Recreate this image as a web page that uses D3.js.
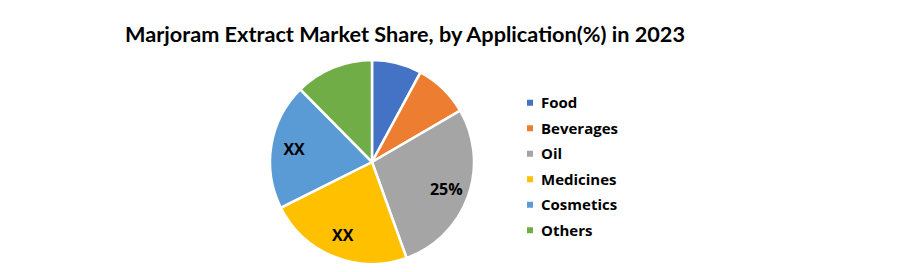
<!DOCTYPE html>
<html><head><meta charset="utf-8">
<script src="https://cdn.jsdelivr.net/npm/d3@7"></script>
<style>body{margin:0;background:#fff}svg{display:block}</style>
</head><body>
<svg id="c" width="900" height="272"></svg>
<script>
const categories = ["Food","Beverages","Oil","Medicines","Cosmetics","Others"];
const values = [7.9, 8.7, 27.9, 23.1, 20.0, 12.4];
const sliceLabels = ["", "", "25%", "XX", "XX", ""];
const colors = ["#4472C4","#ED7D31","#A5A5A5","#FFC000","#5B9BD5","#70AD47"];
const title = "Marjoram Extract Market Share, by Application(%) in 2023";

const svg = d3.select("#c");
const font = "Lato, 'Open Sans', sans-serif";
const font2 = "'Open Sans', Lato, sans-serif";
svg.append("rect").attr("width",900).attr("height",272).attr("fill","#fff");

svg.append("text").attr("x",125).attr("y",42).attr("font-family",font)
  .attr("font-weight","bold").attr("font-size",20).attr("fill","#000")
  .attr("textLength",560).attr("lengthAdjust","spacingAndGlyphs").text(title);

const cx = 372, cy = 162, r = 102;
const data = categories.map((c,i)=>({c, v: values[i], l: sliceLabels[i], col: colors[i]}));
const pie = d3.pie().value(d=>d.v).sort(null);
const arc = d3.arc().innerRadius(0).outerRadius(r);
const labelArc = d3.arc().innerRadius(79).outerRadius(79);
const g = svg.append("g").attr("transform",`translate(${cx},${cy})`);
const arcs = pie(data);
g.selectAll("path").data(arcs).join("path").attr("d",arc)
  .attr("fill",d=>d.data.col).attr("stroke","#fff").attr("stroke-width",2.5);
g.selectAll("text").data(arcs).join("text")
  .attr("transform",d=>`translate(${labelArc.centroid(d)})`)
  .attr("text-anchor","middle").attr("dy","0.35em")
  .attr("font-family",font2).attr("font-weight","bold").attr("font-size",16).attr("fill","#000")
  .text(d=>d.data.l);

const leg = svg.append("g");
const ly = d3.scaleBand().domain(categories).range([90,243]);
categories.forEach((c,i)=>{
  const y = ly(c)+ly.bandwidth()/2;
  leg.append("rect").attr("x",527).attr("y",y-3).attr("width",6).attr("height",6).attr("fill",colors[i]);
  leg.append("text").attr("x",541).attr("y",y).attr("dy","0.35em").attr("font-family",font2)
    .attr("font-weight","bold").attr("font-size",15).attr("fill","#000").text(c);
});
</script>
</body></html>
